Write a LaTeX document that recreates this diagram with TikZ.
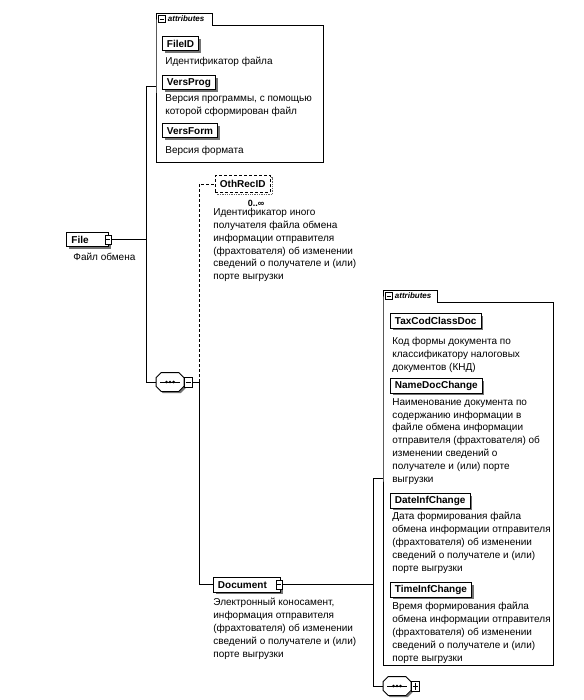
\documentclass[tikz,border=0pt]{standalone}
\usepackage{fontspec}
\setmainfont{Liberation Sans}
\usetikzlibrary{shadows}
\newcommand\seqicon[1]{%
  \fill[black!55] ([shift={(6.8pt,-1.8pt)}]#1.north west) -- ([shift={(-3.2pt,-1.8pt)}]#1.north east) -- ([shift={(1.8pt,-6.8pt)}]#1.north east) -- ([shift={(1.8pt,3.2pt)}]#1.south east) -- ([shift={(-3.2pt,-1.8pt)}]#1.south east) -- ([shift={(6.8pt,-1.8pt)}]#1.south west) -- ([shift={(1.8pt,3.2pt)}]#1.south west) -- ([shift={(1.8pt,-6.8pt)}]#1.north west) -- cycle;
  \draw[fill=white, line width=0.8pt] ([xshift=5pt]#1.north west) -- ([xshift=-5pt]#1.north east) -- ([yshift=-5pt]#1.north east) -- ([yshift=5pt]#1.south east) -- ([xshift=-5pt]#1.south east) -- ([xshift=5pt]#1.south west) -- ([yshift=5pt]#1.south west) -- ([yshift=-5pt]#1.north west) -- cycle;
  \draw[line width=0.7pt] ([xshift=4pt]#1.west) -- ([xshift=-4pt]#1.east);
  \foreach \dx in {-3.6,0,3.6} \fill ([xshift=\dx pt]#1.center) circle (1.4pt);%
}
\begin{document}
\begin{tikzpicture}[x=1pt,y=-1pt,line width=0.8pt,
 elem/.style={draw, line width=0.9pt, fill=white, font=\bfseries\fontsize{10}{12}\selectfont, inner xsep=4.5pt, inner ysep=0pt, minimum height=14.5pt, anchor=north west, general shadow={fill=black!55, shadow xshift=2.2pt, shadow yshift=-2.2pt}},
 optelem/.style={draw, densely dashed, line width=0.9pt, fill=white, font=\bfseries\fontsize{10}{12}\selectfont, inner xsep=4.5pt, inner ysep=0pt, minimum height=17pt, anchor=north west, general shadow={draw=black!60, fill=none, densely dotted, line width=1.3pt, shadow xshift=2.2pt, shadow yshift=-2.2pt}},
 desc/.style={anchor=north west, align=left, inner sep=0pt, font=\fontsize{10}{12.8}\selectfont},
 minusicon/.style={draw, fill=white, line width=0.6pt, minimum width=6.5pt, minimum height=9pt, inner sep=0pt, path picture={\draw[line width=0.6pt] ([xshift=1.3pt]path picture bounding box.west) -- ([xshift=-1.3pt]path picture bounding box.east);}},
 plusicon/.style={draw, fill=white, line width=0.6pt, minimum width=6.5pt, minimum height=9pt, inner sep=0pt, path picture={\draw[line width=0.6pt] ([xshift=1.3pt]path picture bounding box.west) -- ([xshift=-1.3pt]path picture bounding box.east); \draw[line width=0.6pt] ([yshift=-1.5pt]path picture bounding box.north) -- ([yshift=1.5pt]path picture bounding box.south);}},
 attrbox/.style={draw=none, anchor=north west, inner sep=0pt},
 tabtext/.style={font=\bfseries\itshape\fontsize{8}{9}\selectfont, inner sep=0pt, anchor=west},
 seqbox/.style={draw=none, rectangle, minimum width=27pt, minimum height=18pt, inner sep=0pt},
]
\useasboundingbox (0,0) rectangle (583,700);

% ---------- top attributes ----------
\node[attrbox, minimum width=167pt, minimum height=137pt] (attr1) at (156,25) {};
\draw (attr1.south west) -- (attr1.north west) -- ++(0,-12) -- ++(56,0) -- ++(0,12) -- (attr1.north east) -- (attr1.south east) -- cycle;
\node[minusicon, minimum width=7pt, minimum height=7pt] (tab1i) at (162,19) {};
\node[tabtext] (tab1t) at (167.5,19) {attributes};

\node[elem] (fileid) at (162,36) {FileID};
\node[desc] (fileidD) at (165,57) {Идентификатор файла};
\node[elem] (versprog) at (162,75) {VersProg};
\node[desc] (versprogD) at (165,94) {Версия программы, с помощью\\которой сформирован файл};
\node[elem] (versform) at (162,123) {VersForm};
\node[desc] (versformD) at (165,146) {Версия формата};

% ---------- File ----------
\node[elem, inner xsep=5pt] (file) at (66,232) {File\kern15pt};
\node[minusicon, anchor=west] (fileI) at ([xshift=-4.5pt]file.east) {};
\node[desc] (fileD) at (73,253) {Файл обмена};

\coordinate (t1) at (146,86);
\coordinate (t2) at (146,382);
\draw (fileI.east) -- (fileI.east -| t1);
\draw (t1) -- (t2);
\draw (t1) -- (t1 -| attr1.west);

% ---------- sequence 1 ----------
\node[seqbox] (seq1) at (170,382) {};
\seqicon{seq1}
\node[minusicon, anchor=west, minimum width=8pt, minimum height=10pt] (seq1I) at (seq1.east) {};
\draw (t2) -- (seq1.west);
\coordinate (s1) at (199,382);
\draw (seq1I.east) -- (s1);

% ---------- OthRecID ----------
\node[optelem] (oth) at (215,175) {OthRecID};
\node[font=\bfseries\fontsize{9}{10}\selectfont, inner sep=0pt] (othM) at (256,203) {0..∞};
\node[desc] (othD) at (213,208) {Идентификатор иного\\получателя файла обмена\\информации отправителя\\(фрахтователя) об изменении\\сведений о получателе и (или)\\порте выгрузки};
\draw[densely dashed] (s1) -- (s1 |- oth.west) -- (oth.west);

% ---------- Document ----------
\node[elem] (doc) at (213,577) {Document\kern9pt};
\node[minusicon, anchor=west] (docI) at ([xshift=-5pt]doc.east) {};
\node[desc] (docD) at (213,598) {Электронный коносамент,\\информация отправителя\\(фрахтователя) об изменении\\сведений о получателе и (или)\\порте выгрузки};
\draw (s1) -- (s1 |- doc.west) -- (doc.west);

% ---------- right attributes ----------
\node[attrbox, minimum width=170pt, minimum height=363pt] (attr2) at (383,302) {};
\draw (attr2.south west) -- (attr2.north west) -- ++(0,-12) -- ++(54,0) -- ++(0,12) -- (attr2.north east) -- (attr2.south east) -- cycle;
\node[minusicon, minimum width=7pt, minimum height=7pt] (tab2i) at (389,296) {};
\node[tabtext] (tab2t) at (394.5,296) {attributes};

\node[elem] (tax) at (390,313) {TaxCodClassDoc};
\node[desc] (taxD) at (392,337) {Код формы документа по\\классификатору налоговых\\документов (КНД)};
\node[elem] (name) at (390,378) {NameDocChange};
\node[desc] (nameD) at (392,398) {Наименование документа по\\содержанию информации в\\файле обмена информации\\отправителя (фрахтователя) об\\изменении сведений о\\получателе и (или) порте\\выгрузки};
\node[elem] (date) at (390,493) {DateInfChange};
\node[desc] (dateD) at (392,512) {Дата формирования файла\\обмена информации отправителя\\(фрахтователя) об изменении\\сведений о получателе и (или)\\порте выгрузки};
\node[elem] (time) at (390,582) {TimeInfChange};
\node[desc] (timeD) at (392,602) {Время формирования файла\\обмена информации отправителя\\(фрахтователя) об изменении\\сведений о получателе и (или)\\порте выгрузки};

\coordinate (r1) at (373,478);
\coordinate (r2) at (373,686);
\draw (docI.east) -- (docI.east -| r1);
\draw (r1) -- (r2);
\draw (r1) -- (r1 -| attr2.west);

% ---------- sequence 2 ----------
\node[seqbox] (seq2) at (397,686) {};
\seqicon{seq2}
\node[plusicon, anchor=west, minimum width=8pt, minimum height=10pt] (seq2I) at (seq2.east) {};
\draw (r2) -- (seq2.west);
\end{tikzpicture}
\end{document}
